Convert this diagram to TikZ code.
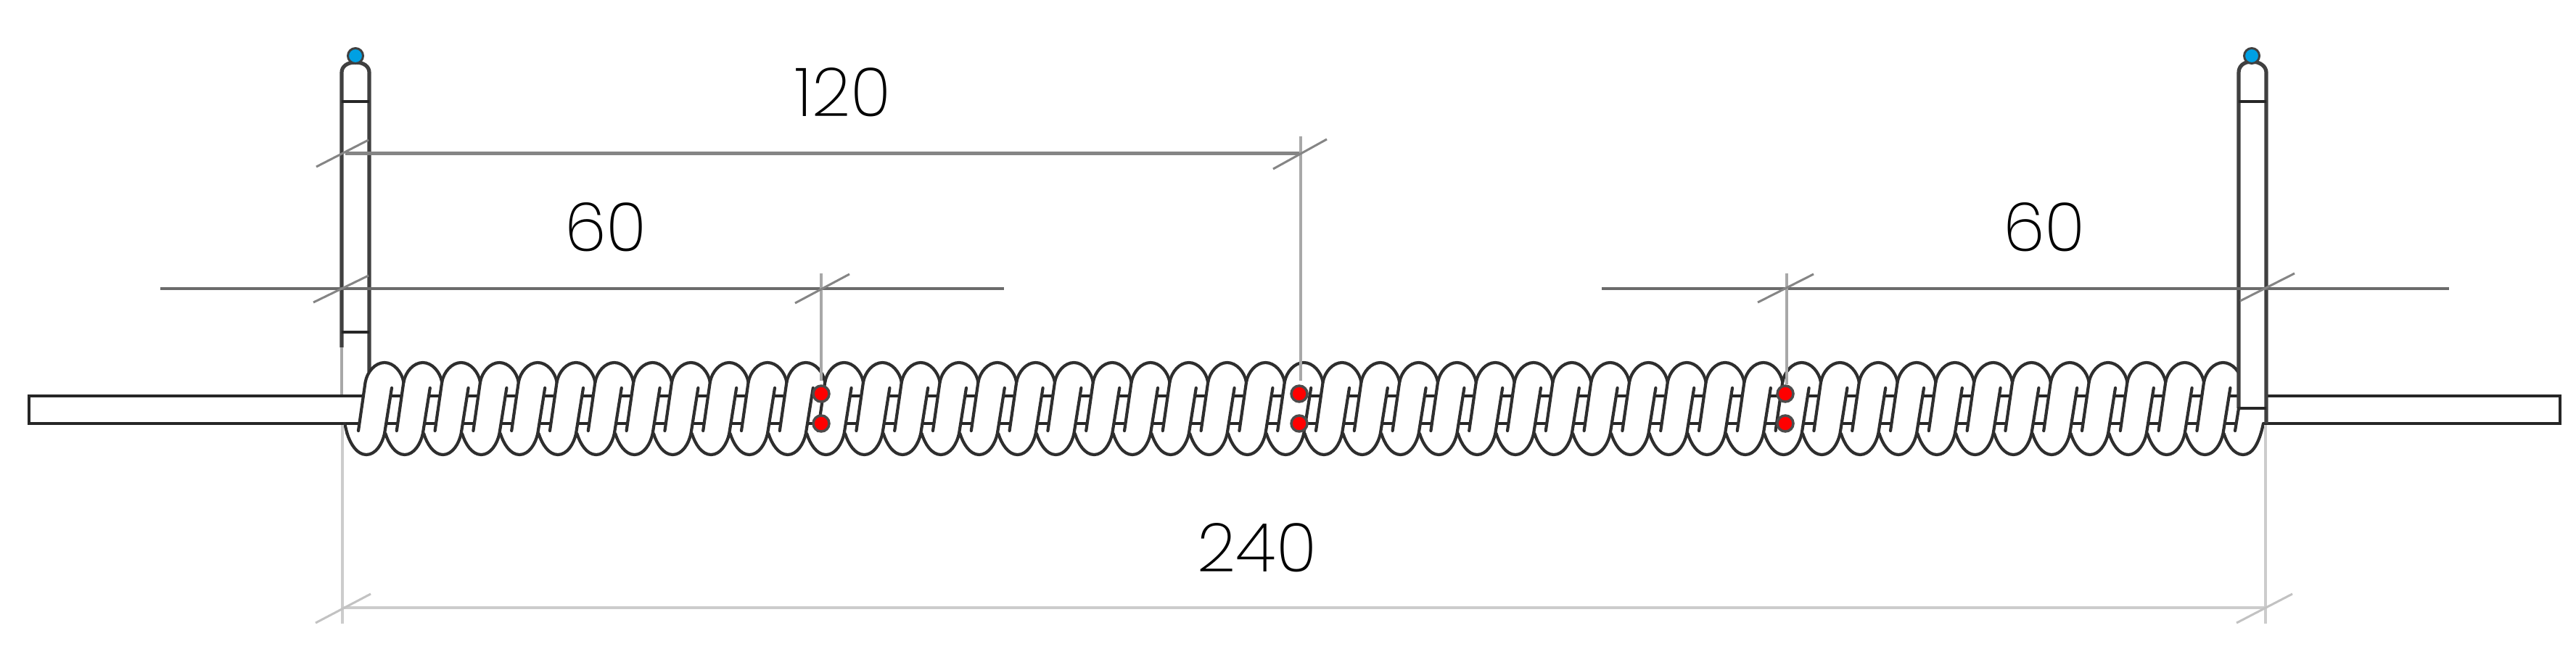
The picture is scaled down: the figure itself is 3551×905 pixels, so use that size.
\documentclass[tikz,border=0pt]{standalone}
\usepackage{fontspec}
\newfontfamily\dimfont{Poppins ExtraLight}
\definecolor{dotblue}{RGB}{0,160,227}
\tikzset{
  x=1pt,y=-1pt,
  coilline/.style={draw=black!82,line width=4.2pt,line join=round,line cap=round},
  rodline/.style={draw=black!85,line width=4.8pt},
  postline/.style={draw=black!75,line width=5.2pt},
  dimdark/.style={draw=black!58,line width=4pt},
  dimmid/.style={draw=black!48,line width=5pt},
  dimlight/.style={draw=black!20,line width=4.6pt},
  extline/.style={draw=black!34,line width=4.4pt},
  tickmark/.style={draw=black!48,line width=3pt},
  ticklight/.style={draw=black!24,line width=3pt},
  dimlabel/.style={inner sep=0pt,text=black,font=\dimfont\fontsize{93}{93}\selectfont},
  reddot/.style={circle,fill=red,draw=black!70,line width=3.5pt,minimum size=22pt,inner sep=0pt},
  bluedot/.style={circle,fill=dotblue,draw=black!75,line width=3pt,minimum size=21pt,inner sep=0pt},
}
\begin{document}
\begin{tikzpicture}
\useasboundingbox (0,0) rectangle (3551,905);
\fill[white] (0,0) rectangle (3551,905);
% left post
\draw[postline] (471,479) -- (471,100) .. controls (471,92) and (478,86) .. (490,86)
  .. controls (502,86) and (509,92) .. (509,100) -- (509,513);
\draw[extline] (471,479) -- (471,546);
\draw[rodline] (471,140) -- (509,140);
\draw[rodline] (471,458) -- (509,458);
% rod behind the coil
\draw[rodline] (40,546) rectangle (3529,584);
\fill[white] (475,548) rectangle (3123,582);
% coil: white bands first, then all strokes
\foreach \i in {0,...,48}{
  \pgfmathsetmacro{\xt}{530+52.8*\i}
  \begin{scope}[xshift=\xt pt]
    \fill[white] (-26.4,527) .. controls (-24,513) and (-13,500) .. (0,500)
      .. controls (13,500) and (24,513) .. (26.4,527) -- (10,535) -- (0,598)
      .. controls (-3,612) and (-12,627) .. (-25,627)
      .. controls (-38,627) and (-47,612) .. (-51.4,598) -- (-36,594) -- cycle;
  \end{scope}
}
\foreach \i in {0,...,48}{
  \pgfmathsetmacro{\xt}{530+52.8*\i}
  \begin{scope}[xshift=\xt pt]
    \draw[coilline] (-36,594) -- (-26.4,527) .. controls (-24,513) and (-13,500) .. (0,500)
      .. controls (13,500) and (24,513) .. (26.4,527);
    \draw[coilline] (10,535) -- (0,598) .. controls (-3,612) and (-12,627) .. (-25,627)
      .. controls (-38,627) and (-47,612) .. (-51.4,598);
  \end{scope}
}
\draw[coilline] (475,584) -- (478.6,598);
% right post and last coil turn
\fill[white] (3086,90) rectangle (3124,563);
\fill[white] (3086,563) -- (3124,563) -- (3120,584) .. controls (3114,612) and (3105,627) .. (3092,627)
  .. controls (3079,627) and (3070,612) .. (3065.6,598) -- (3078,598) -- cycle;
\draw[postline] (3086,563) -- (3086,100) .. controls (3086,92) and (3092,85) .. (3104,85)
  .. controls (3116,85) and (3124,92) .. (3124,100) -- (3124,584);
\draw[rodline] (3086,140) -- (3124,140);
\draw[rodline] (3086,563) -- (3124,563);
\draw[coilline] (3086,563) -- (3081,594);
\draw[coilline] (3120,584) .. controls (3114,612) and (3105,627) .. (3092,627)
  .. controls (3079,627) and (3070,612) .. (3065.6,598);
% extension and dimension lines
\draw[dimlight] (472,586) -- (472,860);
\draw[dimlight] (3123,586) -- (3123,860);
\draw[dimlight] (472,838) -- (3123,838);
\draw[ticklight] (435,859) -- (511,819);
\draw[ticklight] (3083,859) -- (3160,819);
\draw[dimmid] (476,211) -- (1793,211);
\draw[dimdark] (221,398) -- (1384,398);
\draw[dimdark] (2208,398) -- (3376,398);
\draw[extline] (1132,377) -- (1132,525);
\draw[extline] (1793,188) -- (1793,525);
\draw[extline] (2463,377) -- (2463,530);
\draw[tickmark] (436,230) -- (508,193);
\draw[tickmark] (432,417) -- (508,380);
\draw[tickmark] (1096,418) -- (1171,378);
\draw[tickmark] (1755,233) -- (1829,192);
\draw[tickmark] (2423,417) -- (2500,378);
\draw[tickmark] (3088,415) -- (3163,377);
% dots
\node[bluedot] (bl) at (490,77) {};
\node[bluedot] (br) at (3104,77) {};
\node[reddot] (a1) at (1132,543) {};
\node[reddot] (a2) at (1132,584) {};
\node[reddot] (b1) at (1791,543) {};
\node[reddot] (b2) at (1791,584) {};
\node[reddot] (c1) at (2461,543) {};
\node[reddot] (c2) at (2461,584) {};
% labels
\node[dimlabel] (t120) at (1162,127) {120};
\node[dimlabel] (t60a) at (835,313) {60};
\node[dimlabel] (t60b) at (2818,313) {60};
\node[dimlabel] (t240) at (1733,755) {240};
\end{tikzpicture}
\end{document}
